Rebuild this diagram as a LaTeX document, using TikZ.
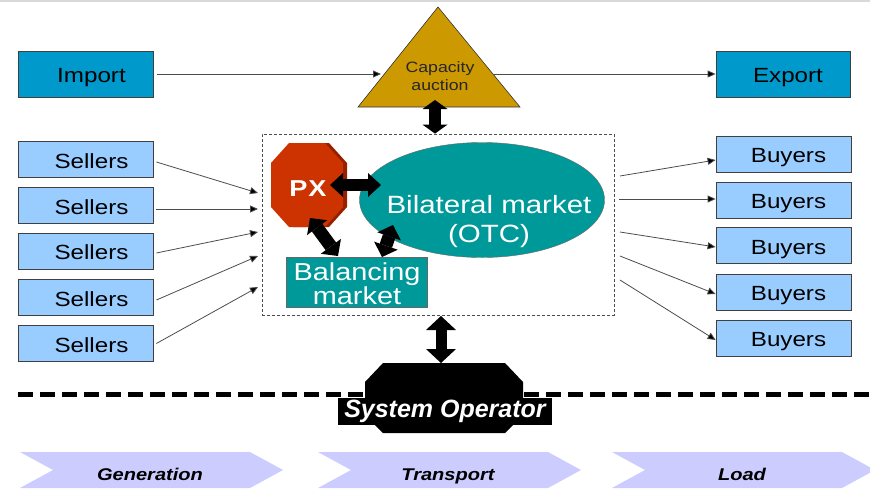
\documentclass[tikz,border=0pt]{standalone}
\usepackage{fontspec}
\setmainfont{Liberation Sans}
\newfontfamily\wsans[FakeStretch=1.18]{Liberation Sans}
\newfontfamily\nsans{Liberation Sans}
\usetikzlibrary{arrows.meta,shapes.geometric,calc}

\definecolor{importblue}{RGB}{0,153,204}
\definecolor{sellblue}{RGB}{153,204,255}
\definecolor{auction}{RGB}{204,153,0}
\definecolor{otcteal}{RGB}{0,153,153}
\definecolor{pxred}{RGB}{204,51,0}
\definecolor{pxdark}{RGB}{150,32,0}
\definecolor{stage}{RGB}{204,204,255}

\tikzset{
  tradebox/.style={draw=black!75, line width=0.8pt, minimum width=135pt,
    minimum height=36pt, inner sep=0pt, text height=17.5pt, text depth=0pt,
    font=\wsans\fontsize{20.5}{24}\selectfont},
  sellbox/.style={tradebox, fill=sellblue},
  flowbox/.style={tradebox, fill=importblue, minimum height=46pt},
  flow/.style={draw=black!70, line width=0.8pt, -{Triangle[length=8pt,width=7pt,fill=black]}},
  blk/.style n args={3}{draw=black, line width=#1,
    {Triangle[length=#3,width=#2,line width=0pt]}-{Triangle[length=#3,width=#2,line width=0pt]}},
  stagetext/.style={text height=12pt, text depth=0pt,
    font=\wsans\bfseries\itshape\fontsize{17}{20}\selectfont},
}

\begin{document}
\begin{tikzpicture}[x=1pt,y=-1pt]
\useasboundingbox (0,0) rectangle (870,488);

% slide top rule
\draw[black!15, line width=2pt] (0,1) -- (870,1);

% import / export
\node[flowbox] (imp) at (85.5,74) {\hspace*{12pt}Import};
\node[flowbox, minimum width=134pt] (exp) at (783,74) {\hspace*{10pt}Export};

% capacity auction triangle
\draw[draw=black!80, fill=auction, line width=0.6pt] (438,7) -- (520,107) -- (358,107) -- cycle;
\node[align=center, text=black!85, font=\wsans\fontsize{15}{18}\selectfont] (cap) at (440,76) {Capacity\\auction};
\coordinate (capL) at (381,74);
\coordinate (capR) at (494,74);
\coordinate (capB) at (435,100);

\draw[flow, shorten <=4pt] (imp.east) -- (capL);
\draw[flow] (capR) -- (exp.west);

% market area
\node[draw=black!70, dash pattern=on 3pt off 2pt, line width=0.8pt,
      minimum width=352pt, minimum height=181pt, inner sep=0pt] (mkt) at (438,224.5) {};
\draw[blk={12pt}{25pt}{9pt}] (capB) -- (capB |- mkt.north);

% power exchange
\fill[pxdark] (293,143) -- (329,143) -- (347,163) -- (347,207) -- (329,227) -- (293,227) -- cycle;
\fill[pxred] (289,143) -- (325,143) -- (343,163) -- (343,207) -- (325,227) -- (289,227) -- (271,207) -- (271,163) -- cycle;
\node[text=white, font=\wsans\bfseries\fontsize{23}{26}\selectfont] (px) at (308,189) {P\kern1ptX};

% bilateral market
\node[ellipse, draw=black!60, fill=otcteal, minimum width=245pt, minimum height=115pt, inner sep=0pt] (otc) at (482,200) {};
\node[text=white, align=center, font=\wsans\fontsize{25}{29}\selectfont] (otctext) at (489,222) {Bilateral market\\(OTC)};

% balancing market
\node[draw=black!60, fill=otcteal, minimum width=141pt, minimum height=50pt, inner sep=0pt] (bal) at (356.5,282) {};
\node[text=white, align=center, font=\wsans\fontsize{24.5}{21}\selectfont] (baltext) at (357,284) {Balancing\\market};

\coordinate (pxE) at (330,185);
\coordinate (otcW) at (381,185);
\coordinate (pxS) at (310,218);
\coordinate (balN1) at (338,256);
\coordinate (otcS) at (393,225);
\coordinate (balN2) at (382,257);
\draw[blk={12pt}{24pt}{13pt}] (pxE) -- (otcW);
\draw[blk={13pt}{25pt}{12pt}] (pxS) -- (balN1);
\draw[blk={13pt}{25pt}{12pt}] (otcS) -- (balN2);

% sellers
\node[sellbox] (s1) at (85.5,159.5) {\hspace*{12pt}Sellers};
\node[sellbox] (s2) at (85.5,205.5) {\hspace*{12pt}Sellers};
\node[sellbox] (s3) at (85.5,251) {\hspace*{12pt}Sellers};
\node[sellbox] (s4) at (85.5,297.5) {\hspace*{12pt}Sellers};
\node[sellbox] (s5) at (85.5,343.5) {\hspace*{12pt}Sellers};
\coordinate (in1) at (258,193);
\coordinate (in2) at (258,209);
\coordinate (in3) at (258,232);
\coordinate (in4) at (258,256);
\coordinate (in5) at (258,287);
\draw[flow] ($(s1.east)+(3,2.5)$) -- (in1);
\draw[flow] ($(s2.east)+(3,3.5)$) -- (in2);
\draw[flow] ($(s3.east)+(3,2)$) -- (in3);
\draw[flow] ($(s4.east)+(3,2.5)$) -- (in4);
\draw[flow] ($(s5.east)+(3,0)$) -- (in5);

% buyers
\node[sellbox] (b1) at (783.5,154) {\hspace*{10pt}Buyers};
\node[sellbox] (b2) at (783.5,200) {\hspace*{10pt}Buyers};
\node[sellbox] (b3) at (783.5,245.5) {\hspace*{10pt}Buyers};
\node[sellbox] (b4) at (783.5,292) {\hspace*{10pt}Buyers};
\node[sellbox] (b5) at (783.5,338) {\hspace*{10pt}Buyers};
\coordinate (out1) at (620,176);
\coordinate (out2) at (619,199);
\coordinate (out3) at (620,232);
\coordinate (out4) at (620,256);
\coordinate (out5) at (620,280);
\draw[flow] (out1) -- (b1.west |- 0,160);
\draw[flow] (out2) -- (b2.west |- out2);
\draw[flow] (out3) -- (b3.west |- 0,247);
\draw[flow] (out4) -- (b4.west |- 0,294);
\draw[flow] (out5) -- (b5.west |- 0,340);

% grid / market boundary
\draw[line width=5pt, dash pattern=on 15pt off 7pt] (18,394) -- (870,394);

% system operator
\coordinate (soT) at (441,363);
\draw[blk={11pt}{30pt}{14pt}] (441,316) -- (soT);
\fill[black] (383,363) -- (505,363) -- (523,382) -- (523,415) -- (505,433) -- (383,433) -- (365,415) -- (365,382) -- cycle;
\node[fill=black, text=white, minimum width=214pt, minimum height=27pt, inner sep=0pt,
      font=\nsans\bfseries\itshape\fontsize{25}{27}\selectfont] (sysop) at (445,411.5) {System Operator};

% value chain stages
\fill[stage] (20,452) -- (250,452) -- (283,470) -- (250,488) -- (20,488) -- (53,470) -- cycle;
\fill[stage] (318,452) -- (548,452) -- (581,470) -- (548,488) -- (318,488) -- (351,470) -- cycle;
\fill[stage] (612,452) -- (842,452) -- (875,470) -- (842,488) -- (612,488) -- (645,470) -- cycle;
\node[stagetext] (gen) at (150,474) {Generation};
\node[stagetext] (tra) at (448,474) {Transport};
\node[stagetext] (load) at (742,474) {Load};
\end{tikzpicture}
\end{document}
